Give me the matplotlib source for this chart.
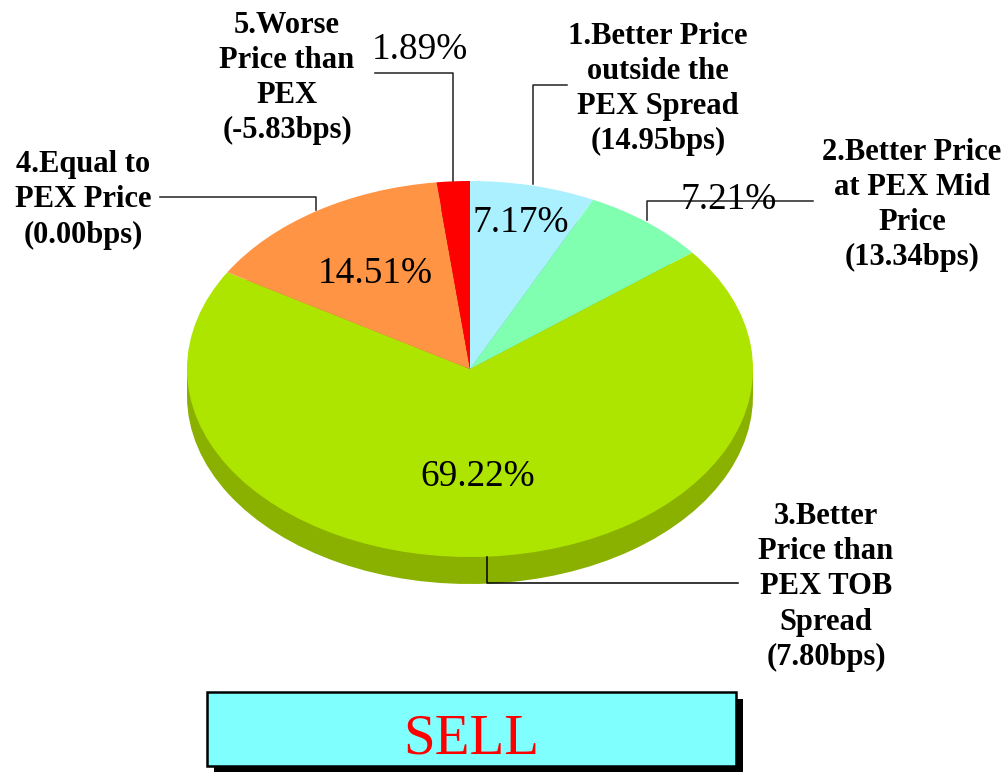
import matplotlib.pyplot as plt
from matplotlib.patches import Rectangle

plt.rcParams['font.family'] = ['Liberation Serif', 'DejaVu Serif']

# slice values, clockwise from 12 o'clock
shares = [7.17, 7.21, 69.22, 14.51, 1.89]
names = ["1.Better Price\noutside the\nPEX Spread\n(14.95bps)",
         "2.Better Price\nat PEX Mid\nPrice\n(13.34bps)",
         "3.Better\nPrice than\nPEX TOB\nSpread\n(7.80bps)",
         "4.Equal to\nPEX Price\n(0.00bps)",
         "5.Worse\nPrice than\nPEX\n(-5.83bps)"]
colors = ["#AAF0FF", "#80FFB0", "#AEE500", "#FF9445", "#FF0000"]
side_colors = ["#7FB4BF", "#60BF84", "#8AB000", "#BF6F34", "#BF0000"]
title = "SELL"

W, H = 1008, 772
fig = plt.figure(figsize=(W / 100, H / 100), dpi=100, facecolor="white")

# pie is squashed into an ellipse, centre (470,369), radii 283 x 188 px
rx, ry, depth = 283, 188, 27
pie_ax = fig.add_axes([(470 - rx) / W, 1 - (369 + ry) / H, 2 * rx / W, 2 * ry / H])
d = depth / ry
pie_ax.pie(shares, colors=side_colors, startangle=90, counterclock=False, radius=1, center=(0, -d))
pie_ax.add_patch(Rectangle((-1, -d), 2, d, color=side_colors[2], lw=0))
pie_ax.pie(shares, colors=colors, startangle=90, counterclock=False, radius=1, center=(0, 0))
pie_ax.set_aspect("auto")
pie_ax.set_xlim(-1, 1)
pie_ax.set_ylim(-1, 1)
for p in pie_ax.patches:
    p.set_clip_on(False)

# overlay in pixel coordinates for labels and leader lines
ax = fig.add_axes([0, 0, 1, 1])
ax.set_xlim(0, W)
ax.set_ylim(H, 0)
ax.axis("off")

line_col = "#222222"
ax.plot([533, 533, 567], [184, 85, 85], color=line_col, lw=1.1)
ax.plot([647, 647, 813], [220, 201, 201], color=line_col, lw=1.1)
ax.plot([487, 487, 738], [557, 583, 583], color="black", lw=1.1)
ax.plot([160, 316, 316], [197, 197, 210], color=line_col, lw=1.1)
ax.plot([375, 453, 453], [73, 73, 181], color=line_col, lw=1.1)

pct_pos = [(521, 223), (729, 200), (478, 477), (375, 274), (420, 50)]
for v, (x, y) in zip(shares, pct_pos):
    ax.text(x, y, f"{v:.2f}%", fontsize=26.8, ha="center", va="center", color="black")

name_pos = [(658, 89), (912, 205), (826, 587), (83, 200), (287, 78)]
for s, (x, y) in zip(names, name_pos):
    ax.text(x, y, s, fontsize=22, fontweight="bold", ha="center", va="center",
            linespacing=1.275, color="black")

# title box with drop shadow
ax.add_patch(Rectangle((214, 699), 529, 74, facecolor="black", edgecolor="black", lw=0))
ax.add_patch(Rectangle((207, 692), 529, 74, facecolor="#80FFFF", edgecolor="black", lw=1.8))
ax.text(471, 739, title, fontsize=41, color="#FF0000", ha="center", va="center")

fig.savefig("out.png", dpi=100)
